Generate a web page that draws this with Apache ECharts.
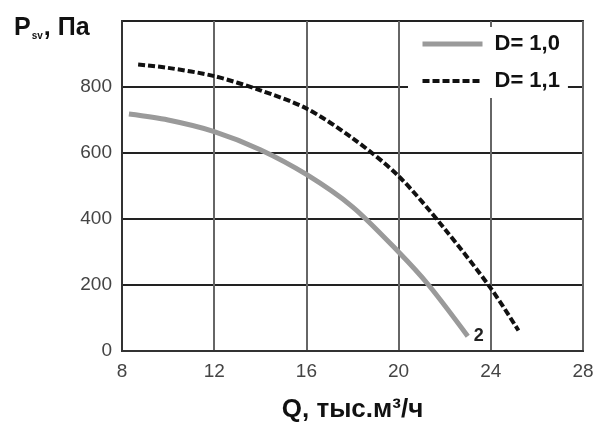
<!DOCTYPE html>
<html>
<head>
<meta charset="utf-8">
<script src="https://cdn.jsdelivr.net/npm/echarts@6/dist/echarts.min.js"></script>
<style>html,body{margin:0;padding:0;background:#fff}#c{width:600px;height:428px}</style>
</head>
<body>
<div id="c"></div>
<script>
const seriesNames = ['D= 1,0', 'D= 1,1'];
const q10 = [8.3, 10, 12, 14, 16, 18, 20, 21.3, 23];
const p10 = [718, 700, 665, 610, 535, 437, 300, 200, 45];
const q11 = [8.7, 10, 12, 14, 16, 18, 20, 22, 24, 25.2];
const p11 = [868, 858, 833, 790, 735, 645, 530, 370, 190, 62];
const xTicks = [8, 12, 16, 20, 24, 28];
const yTicks = [0, 200, 400, 600, 800];
const curveLabel = '2';

const pairs = (xs, ys) => xs.map((x, i) => [x, ys[i]]);

const chart = echarts.init(document.getElementById('c'), null, {renderer: 'canvas'});
const font = 'Liberation Sans, Arial, sans-serif';
chart.setOption({
  animation: false,
  backgroundColor: '#fff',
  title: {
    text: '{p|P}{s|sv}{p|, Па}',
    left: 9, top: 8,
    textStyle: {
      fontFamily: font,
      rich: {
        p: {fontSize: 25, fontWeight: 'bold', color: '#111', fontFamily: font, verticalAlign: 'bottom', lineHeight: 28},
        s: {fontSize: 10, fontWeight: 'bold', color: '#111', fontFamily: font, verticalAlign: 'bottom', lineHeight: 17, padding: [0, 1, 0, 1]}
      }
    }
  },
  grid: {left: 122, right: 17, top: 21, bottom: 77, show: true, borderColor: '#333', borderWidth: 2, backgroundColor: 'transparent'},
  legend: {
    orient: 'vertical',
    left: 408, top: 27,
    padding: [5, 8, 5, 12],
    backgroundColor: '#fff',
    itemWidth: 60, itemHeight: 14, itemGap: 13,
    itemStyle: {opacity: 0},
    data: [
      {name: seriesNames[0], lineStyle: {width: 5}},
      {name: seriesNames[1], lineStyle: {width: 4}}
    ],
    textStyle: {fontSize: 22, fontWeight: 'bold', color: '#111', fontFamily: font, lineHeight: 24, padding: [0, 0, 0, 7]}
  },
  xAxis: {
    type: 'value', min: xTicks[0], max: xTicks[xTicks.length - 1], interval: 4,
    name: 'Q, тыс.м³/ч', nameLocation: 'middle', nameGap: 46,
    nameTextStyle: {fontSize: 26, fontWeight: 'bold', color: '#111', fontFamily: font},
    axisLine: {show: true, lineStyle: {color: '#333', width: 2}},
    axisTick: {show: false},
    splitLine: {show: true, lineStyle: {color: '#666', width: 2}},
    axisLabel: {fontSize: 19, color: '#444', margin: 11, fontFamily: font,
      formatter: v => xTicks.includes(v) ? String(v) : ''}
  },
  yAxis: {
    type: 'value', min: 0, max: 1000, interval: 200,
    axisLine: {show: true, lineStyle: {color: '#333', width: 2}},
    axisTick: {show: false},
    splitLine: {show: true, lineStyle: {color: '#222', width: 2}},
    axisLabel: {fontSize: 19, color: '#444', margin: 10, fontFamily: font,
      formatter: v => yTicks.includes(v) ? String(v) : ''}
  },
  series: [
    {name: seriesNames[0], type: 'line', data: pairs(q10, p10), smooth: 0.3,
     symbol: 'none', showSymbol: false,
     endLabel: {show: true, formatter: curveLabel, distance: 6, fontSize: 18, fontWeight: 'bold', color: '#222', fontFamily: font},
     lineStyle: {color: '#9a9a9a', width: 5}, itemStyle: {color: '#9a9a9a'}},
    {name: seriesNames[1], type: 'line', data: pairs(q11, p11), smooth: 0.3,
     symbol: 'none', showSymbol: false,
     lineStyle: {color: '#111', width: 4, type: [7, 3]}, itemStyle: {color: '#111'}}
  ]
});
</script>
</body>
</html>
